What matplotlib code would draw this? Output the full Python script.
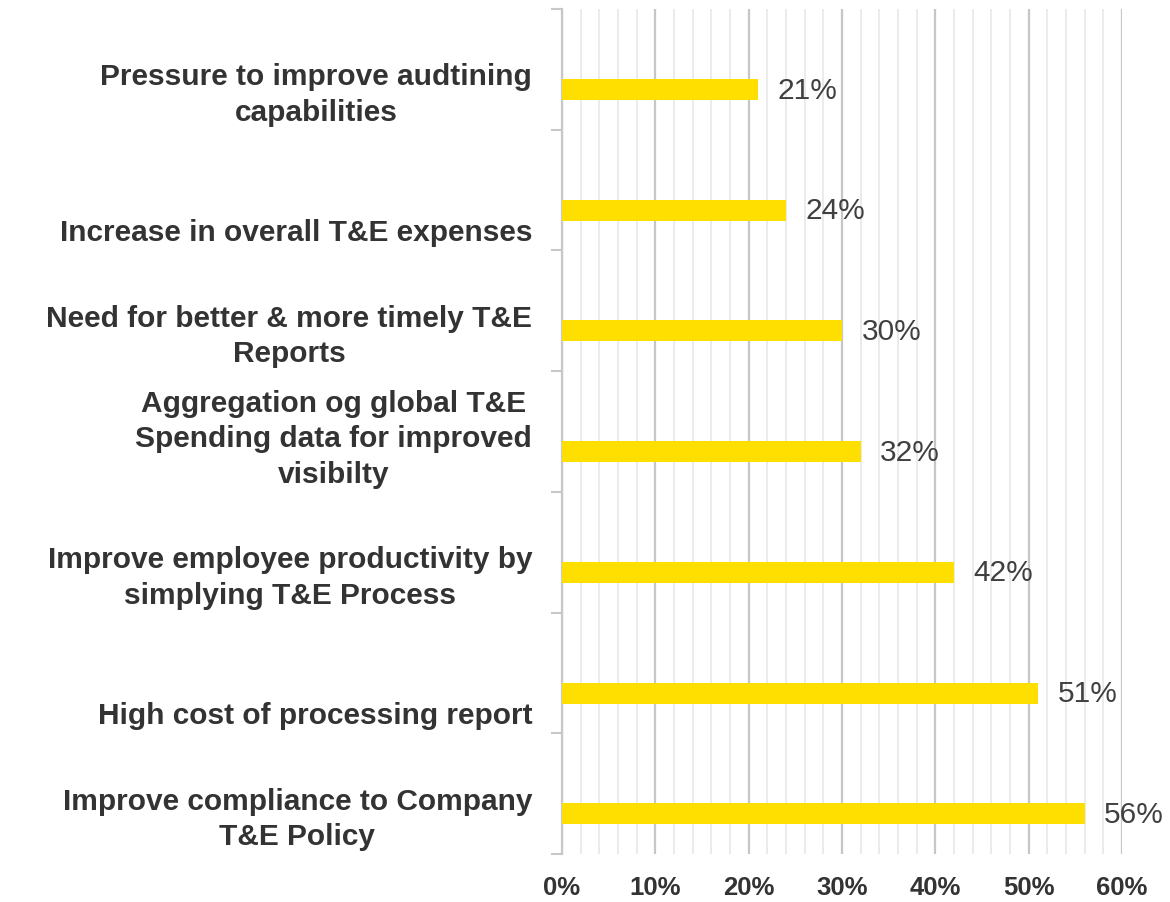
import numpy as np
import matplotlib
matplotlib.use("Agg")
import matplotlib.pyplot as plt
from matplotlib.ticker import FuncFormatter, MultipleLocator

# ---- data (top to bottom) ----
categories = [
    "Pressure to improve audtining\ncapabilities",
    "Increase in overall T&E expenses",
    "Need for better & more timely T&E\nReports",
    "Aggregation og global T&E\nSpending data for improved\nvisibilty",
    "Improve employee productivity by\nsimplying T&E Process",
    "High cost of processing report",
    "Improve compliance to Company\nT&E Policy",
]
values = [21, 24, 30, 32, 42, 51, 56]
x_ticks = [0, 10, 20, 30, 40, 50, 60]

plt.rcParams['font.family'] = ['Liberation Sans', 'DejaVu Sans']

W, H = 1170, 903
fig = plt.figure(figsize=(W / 100, H / 100), dpi=100)
ax = fig.add_axes([562 / W, 48 / H, 560 / W, 845 / H])

n = len(categories)
idx = np.arange(n)
bar_shift = 0.667          # bars sit 2/3 down each category band
label_shift = 0.30         # labels are bottom-aligned below bar centre
bar_y = idx + bar_shift
vals = np.array(values) / 100.0

bars = ax.barh(bar_y, vals, height=0.174, color='#FFDF00', zorder=3)
ax.bar_label(bars, labels=[f"{v}%" for v in values], padding=14,
             fontsize=21.5, color='#404040')

ax.set_ylim(n, 0)
ax.set_xlim(0, max(x_ticks) / 100)

# category labels
ax.set_yticks(bar_y + label_shift)
ax.set_yticklabels(categories, fontsize=21.5, fontweight='bold', color='#333333',
                   linespacing=1.34)
for lbl in ax.get_yticklabels():
    lbl.set_va('bottom')
    lbl.set_multialignment('center')
ax.tick_params(axis='y', which='major', length=0, pad=21.5)
ax.set_yticks(np.arange(n + 1), minor=True)
ax.tick_params(axis='y', which='minor', length=8, width=1.5, color='#c8c8c8')

# x axis
ax.set_xticks(np.array(x_ticks) / 100)
ax.xaxis.set_major_formatter(FuncFormatter(lambda x, p: f"{x*100:.0f}%"))
ax.xaxis.set_minor_locator(MultipleLocator(0.02))
ax.tick_params(axis='x', which='both', length=0, pad=15, labelsize=18.5,
               labelcolor='#333333')
for lbl in ax.get_xticklabels():
    lbl.set_fontweight('bold')

ax.grid(axis='x', which='major', color='#c6c6c6', lw=1.6, zorder=0)
ax.grid(axis='x', which='minor', color='#e8e8e8', lw=1.2, zorder=0)
ax.grid(axis='y', visible=False)
ax.set_axisbelow(True)

for s in ['top', 'right', 'bottom']:
    ax.spines[s].set_visible(False)
ax.spines['left'].set_color('#c8c8c8')
ax.spines['left'].set_linewidth(1.6)

fig.savefig("out.png", dpi=100, facecolor='white')
